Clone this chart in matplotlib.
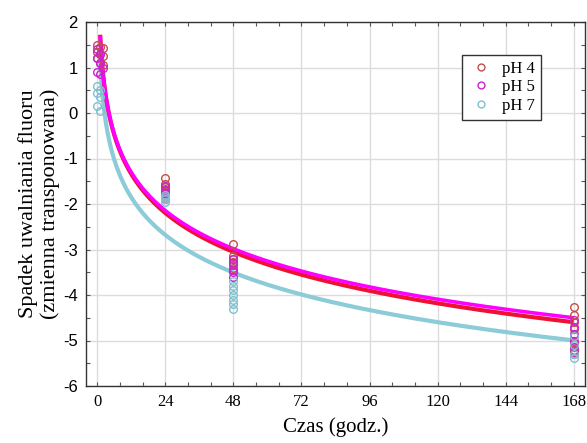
import numpy as np
import matplotlib
matplotlib.use("Agg")
import matplotlib.pyplot as plt
from matplotlib.ticker import MultipleLocator

# ---- data ----
series_names = ["pH 4", "pH 5", "pH 7"]

ph4_t = [0, 0, 0, 1, 1, 1, 2, 2, 2,
         24, 24, 24, 24, 24, 24, 24,
         48, 48, 48, 48, 48, 48,
         168, 168, 168, 168, 168, 168, 168, 168]
ph4_y = [1.50, 1.35, 1.20, 1.45, 1.30, 1.10, 1.42, 1.25, 1.05,
         -1.43, -1.55, -1.62, -1.68, -1.72, -1.78, -1.85,
         -2.88, -3.15, -3.20, -3.28, -3.35, -3.40,
         -4.26, -4.45, -4.60, -4.75, -4.90, -5.05, -5.20, -5.30]

ph5_t = [0, 0, 0, 1, 1, 1, 2,
         24, 24, 24, 24, 24,
         48, 48, 48, 48, 48,
         168, 168, 168, 168, 168, 168]
ph5_y = [1.40, 1.20, 0.90, 1.30, 1.10, 0.85, 1.00,
         -1.60, -1.70, -1.75, -1.80, -1.88,
         -3.20, -3.30, -3.45, -3.50, -3.60,
         -4.55, -4.70, -4.85, -5.00, -5.15, -5.25]

ph7_t = [0, 0, 0, 1, 1, 1,
         24, 24, 24, 24,
         48, 48, 48, 48, 48, 48, 48,
         168, 168, 168, 168]
ph7_y = [0.60, 0.45, 0.15, 0.50, 0.35, 0.05,
         -1.80, -1.85, -1.90, -1.95,
         -3.70, -3.80, -3.90, -4.00, -4.10, -4.20, -4.30,
         -4.90, -5.10, -5.30, -5.38]

# fitted log curves y = a + b*ln(t), coefficients
fit_intercept = [1.72, 1.70, 1.10]
fit_slope = [-1.233, -1.21, -1.19]
fit_start = [1.0, 1.0, 1.0]

x_ticks = [0, 24, 48, 72, 96, 120, 144, 168]
y_ticks = [2, 1, 0, -1, -2, -3, -4, -5, -6]

marker_colors = ["#c0504d", "#cc22cc", "#7fc0d0"]
line_colors = ["#ee1133", "#ff00ff", "#8ccbd8"]

plt.rcParams["font.family"] = ["Liberation Serif", "DejaVu Serif"]
plt.rcParams["axes.unicode_minus"] = False

fig = plt.figure(figsize=(5.87, 4.43), dpi=100)
ax = fig.add_axes([86 / 587, 1 - 386 / 443, 499 / 587, 364 / 443])

ax.set_xlim(-4, 172)
ax.set_ylim(-6, 2)

ax.grid(True, color="#dcdcdc", linewidth=1.0, zorder=0)
ax.set_axisbelow(True)

# curves
tt = [np.linspace(s, 168, 600) for s in fit_start]
for i in (2, 0, 1):
    yy = fit_intercept[i] + fit_slope[i] * np.log(tt[i])
    lw = 3.0 if i != 1 else 2.6
    ax.plot(tt[i], yy, color=line_colors[i], linewidth=lw, zorder=2,
            solid_capstyle="butt")

# points
handles = []
for (t, y), c, name in zip([(ph4_t, ph4_y), (ph5_t, ph5_y), (ph7_t, ph7_y)],
                           marker_colors, series_names):
    h, = ax.plot(t, y, linestyle="none", marker="o", markersize=5.5,
                 markerfacecolor="none", markeredgecolor=c,
                 markeredgewidth=1.0, zorder=3, label=name)
    handles.append(h)

ax.set_xticks(x_ticks)
ax.set_yticks(y_ticks)
ax.xaxis.set_minor_locator(MultipleLocator(8))
ax.yaxis.set_minor_locator(MultipleLocator(0.5))
ax.tick_params(which="both", direction="in", top=True, right=True,
               length=3, width=0.8, color="#555555")
ax.tick_params(axis="x", labelsize=12, pad=6)
ax.tick_params(axis="y", labelsize=12, pad=6)
for lab in ax.get_yticklabels():
    lab.set_family(["Liberation Sans", "DejaVu Sans"])

for sp in ax.spines.values():
    sp.set_color("#333333")
    sp.set_linewidth(1.0)

ax.set_xlabel("Czas (godz.)", fontsize=15, labelpad=5)
ax.set_ylabel("Spadek uwalniania fluoru\n(zmienna transponowana)",
              fontsize=16, labelpad=2, linespacing=1.15)

leg = ax.legend(handles=handles, loc="upper left",
                bbox_to_anchor=((462 - 86) / 499, (386 - 55) / 364),
                borderaxespad=0,
                fontsize=12, frameon=True, fancybox=False, framealpha=1,
                edgecolor="#333333", handlelength=1.6, handletextpad=0.45,
                borderpad=0.35, labelspacing=0.15, markerscale=0.9)
leg.get_frame().set_linewidth(1.0)

fig.savefig("out.png", dpi=100)
